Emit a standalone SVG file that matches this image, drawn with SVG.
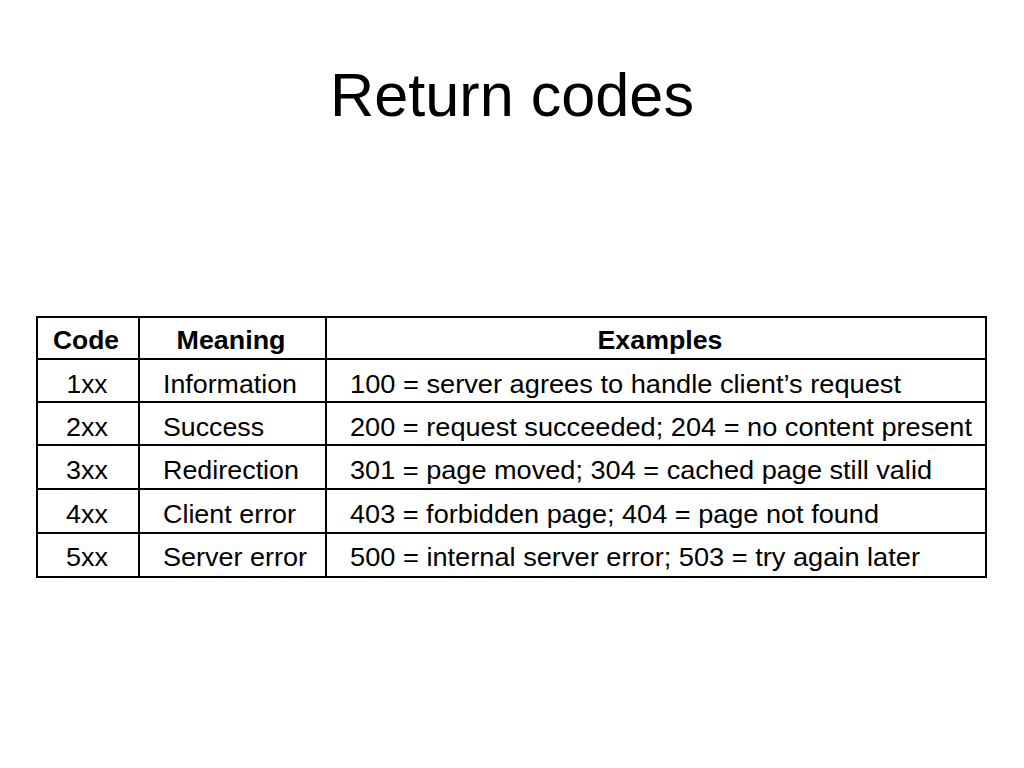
<svg xmlns="http://www.w3.org/2000/svg" width="1024" height="768" viewBox="0 0 1024 768">
<style>
.t{font-family:"Liberation Sans",Arial,sans-serif;font-size:26px;fill:#000}
.h{font-weight:bold}
.c{text-anchor:middle}
.ln{stroke:#000;stroke-width:2;fill:none}
</style>
<rect width="1024" height="768" fill="#fff"/>
<text x="512" y="116" text-anchor="middle" font-family="Liberation Sans, Arial, sans-serif" font-size="61" textLength="364" lengthAdjust="spacingAndGlyphs">Return codes</text>
<g id="grid">
<rect class="ln" x="37" y="317" width="949" height="260"/>
<line class="ln" x1="139" y1="317" x2="139" y2="577"/>
<line class="ln" x1="326" y1="317" x2="326" y2="577"/>
<line class="ln" x1="37" y1="359" x2="986" y2="359"/>
<line class="ln" x1="37" y1="402" x2="986" y2="402"/>
<line class="ln" x1="37" y1="445" x2="986" y2="445"/>
<line class="ln" x1="37" y1="489" x2="986" y2="489"/>
<line class="ln" x1="37" y1="533" x2="986" y2="533"/>
</g>
<g id="header">
<text class="t h c" x="86" y="349" textLength="66" lengthAdjust="spacingAndGlyphs">Code</text>
<text class="t h c" x="231" y="349" textLength="109" lengthAdjust="spacingAndGlyphs">Meaning</text>
<text class="t h c" x="660" y="349" textLength="125" lengthAdjust="spacingAndGlyphs">Examples</text>
</g>
<g id="row1">
<text class="t c" x="87" y="393" textLength="41" lengthAdjust="spacingAndGlyphs">1xx</text>
<text class="t" x="163" y="393" textLength="134" lengthAdjust="spacingAndGlyphs">Information</text>
<text class="t" x="350" y="393" textLength="551" lengthAdjust="spacingAndGlyphs">100 = server agrees to handle client’s request</text>
</g>
<g id="row2">
<text class="t c" x="87" y="436" textLength="42" lengthAdjust="spacingAndGlyphs">2xx</text>
<text class="t" x="163" y="436" textLength="101" lengthAdjust="spacingAndGlyphs">Success</text>
<text class="t" x="350" y="436" textLength="622" lengthAdjust="spacingAndGlyphs">200 = request succeeded; 204 = no content present</text>
</g>
<g id="row3">
<text class="t c" x="87" y="479" textLength="42" lengthAdjust="spacingAndGlyphs">3xx</text>
<text class="t" x="163" y="479" textLength="136" lengthAdjust="spacingAndGlyphs">Redirection</text>
<text class="t" x="350" y="479" textLength="582" lengthAdjust="spacingAndGlyphs">301 = page moved; 304 = cached page still valid</text>
</g>
<g id="row4">
<text class="t c" x="87" y="523" textLength="42" lengthAdjust="spacingAndGlyphs">4xx</text>
<text class="t" x="163" y="523" textLength="133" lengthAdjust="spacingAndGlyphs">Client error</text>
<text class="t" x="350" y="523" textLength="529" lengthAdjust="spacingAndGlyphs">403 = forbidden page; 404 = page not found</text>
</g>
<g id="row5">
<text class="t c" x="87" y="566" textLength="42" lengthAdjust="spacingAndGlyphs">5xx</text>
<text class="t" x="163" y="566" textLength="144" lengthAdjust="spacingAndGlyphs">Server error</text>
<text class="t" x="350" y="566" textLength="570" lengthAdjust="spacingAndGlyphs">500 = internal server error; 503 = try again later</text>
</g>
</svg>
